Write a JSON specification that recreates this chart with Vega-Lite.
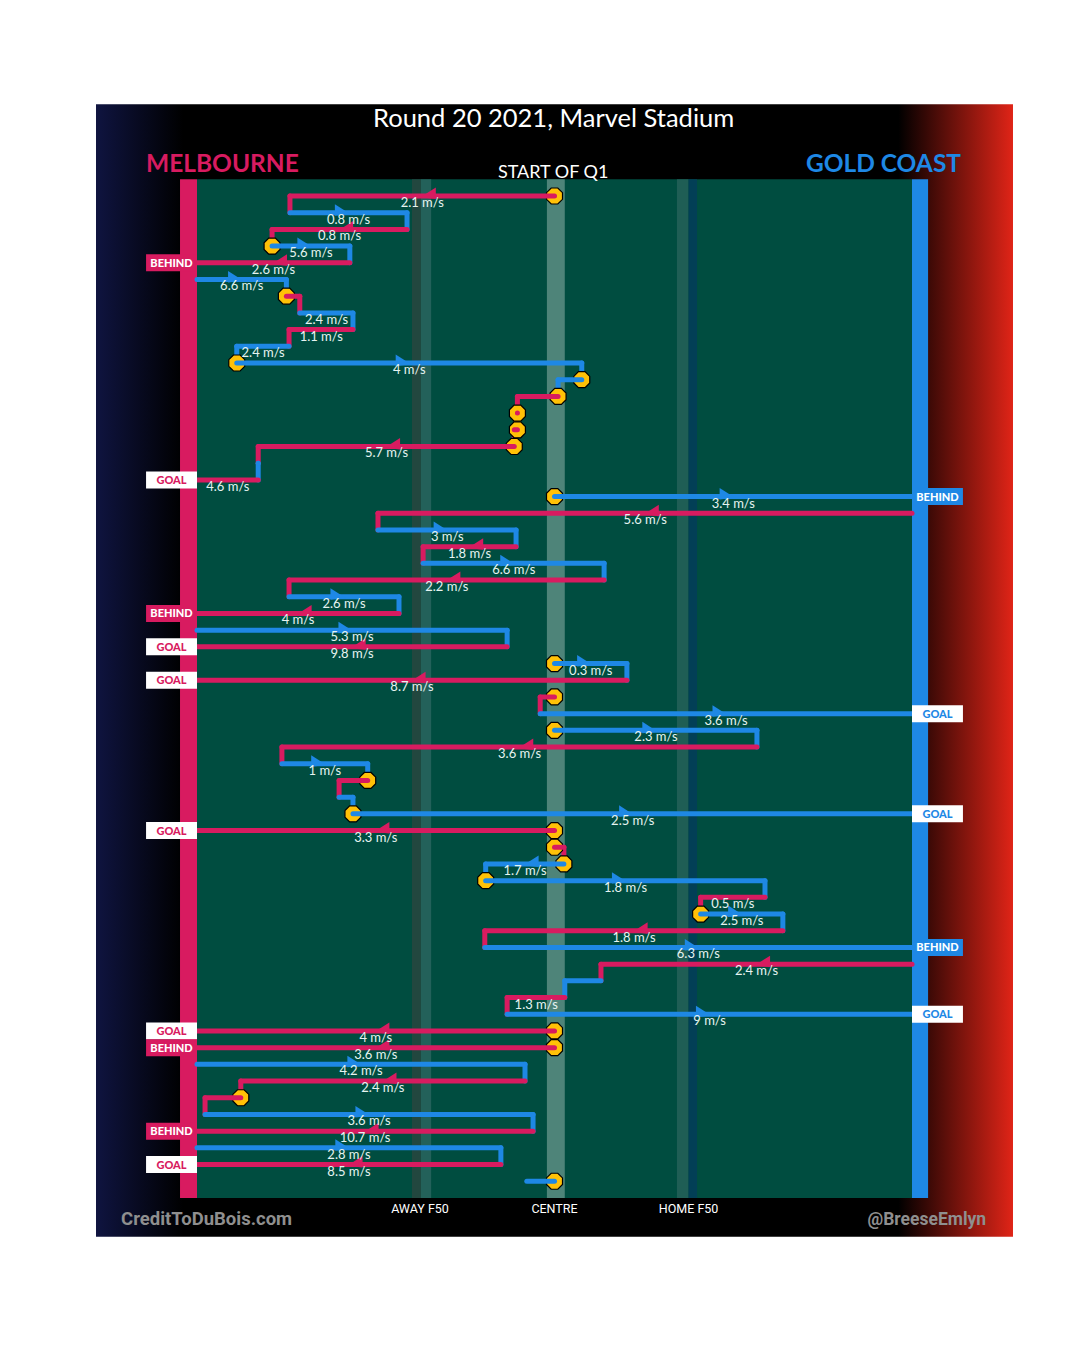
{
  "$schema": "https://vega.github.io/schema/vega-lite/v6.json",
  "width": 1080,
  "height": 1355,
  "autosize": {"type": "fit", "contains": "padding"},
  "padding": 0,
  "background": "#ffffff",
  "config": {"view": {"stroke": null}, "axis": {"disable": true}},
  "resolve": {"scale": {"color": "independent"}},
  "datasets": {
    "zones": [
      {"zone": "pitch", "x1": 0, "x2": 160, "y1": -1, "y2": 60},
      {"zone": "away_a", "x1": 48.1, "x2": 50.1, "y1": -1, "y2": 60},
      {"zone": "away_b", "x1": 50.1, "x2": 52.4, "y1": -1, "y2": 60},
      {"zone": "centre", "x1": 78.3, "x2": 82.3, "y1": -1, "y2": 60},
      {"zone": "home_a", "x1": 107.4, "x2": 110.0, "y1": -1, "y2": 60},
      {"zone": "home_b", "x1": 110.0, "x2": 111.9, "y1": -1, "y2": 60},
      {"zone": "melbar", "x1": -3.8, "x2": 0, "y1": -1, "y2": 60},
      {"zone": "gcbar", "x1": 160, "x2": 163.6, "y1": -1, "y2": 60}
    ],
    "moves": [
      {"row": 0, "team": "MEL", "from": 80, "to": 20.8, "mid": 50.4, "label": "2.1 m/s"},
      {"row": 1, "team": "GC", "from": 20.8, "to": 47, "mid": 33.9, "label": "0.8 m/s"},
      {"row": 2, "team": "MEL", "from": 47, "to": 16.8, "mid": 31.9, "label": "0.8 m/s"},
      {"row": 3, "team": "GC", "from": 16.8, "to": 34.2, "mid": 25.5, "label": "5.6 m/s"},
      {"row": 4, "team": "MEL", "from": 34.2, "to": 0, "mid": 17.1, "label": "2.6 m/s", "result": "BEHIND"},
      {"row": 5, "team": "GC", "from": 0, "to": 20, "mid": 10, "label": "6.6 m/s"},
      {"row": 6, "team": "MEL", "from": 20, "to": 23},
      {"row": 7, "team": "GC", "from": 23, "to": 34.9, "mid": 29, "label": "2.4 m/s"},
      {"row": 8, "team": "MEL", "from": 34.9, "to": 20.6, "mid": 27.8, "label": "1.1 m/s"},
      {"row": 9, "team": "GC", "from": 20.6, "to": 8.9, "mid": 14.8, "label": "2.4 m/s"},
      {"row": 10, "team": "GC", "from": 8.9, "to": 86.1, "mid": 47.5, "label": "4 m/s"},
      {"row": 11, "team": "GC", "from": 86.1, "to": 80.8},
      {"row": 12, "team": "MEL", "from": 80.8, "to": 71.7},
      {"row": 13, "team": "MEL", "from": 71.7, "to": 71.7},
      {"row": 14, "team": "MEL", "from": 71.7, "to": 71.0},
      {"row": 15, "team": "MEL", "from": 71.0, "to": 13.7, "mid": 42.4, "label": "5.7 m/s"},
      {"row": 16, "team": "GC", "from": 13.7, "to": 13.7},
      {"row": 17, "team": "MEL", "from": 13.7, "to": 0, "mid": 6.9, "label": "4.6 m/s", "result": "GOAL"},
      {"row": 18, "team": "GC", "from": 80, "to": 160, "mid": 120, "label": "3.4 m/s", "result": "BEHIND"},
      {"row": 19, "team": "MEL", "from": 160, "to": 40.5, "mid": 100.3, "label": "5.6 m/s"},
      {"row": 20, "team": "GC", "from": 40.5, "to": 71.4, "mid": 56, "label": "3 m/s"},
      {"row": 21, "team": "MEL", "from": 71.4, "to": 50.6, "mid": 61, "label": "1.8 m/s"},
      {"row": 22, "team": "GC", "from": 50.6, "to": 91.1, "mid": 70.9, "label": "6.6 m/s"},
      {"row": 23, "team": "MEL", "from": 91.1, "to": 20.6, "mid": 55.9, "label": "2.2 m/s"},
      {"row": 24, "team": "GC", "from": 20.6, "to": 45.2, "mid": 32.9, "label": "2.6 m/s"},
      {"row": 25, "team": "MEL", "from": 45.2, "to": 0, "mid": 22.6, "label": "4 m/s", "result": "BEHIND"},
      {"row": 26, "team": "GC", "from": 0, "to": 69.4, "mid": 34.7, "label": "5.3 m/s"},
      {"row": 27, "team": "MEL", "from": 69.4, "to": 0, "mid": 34.7, "label": "9.8 m/s", "result": "GOAL"},
      {"row": 28, "team": "GC", "from": 80, "to": 96.2, "mid": 88.1, "label": "0.3 m/s"},
      {"row": 29, "team": "MEL", "from": 96.2, "to": 0, "mid": 48.1, "label": "8.7 m/s", "result": "GOAL"},
      {"row": 30, "team": "MEL", "from": 80, "to": 76.8},
      {"row": 31, "team": "GC", "from": 76.8, "to": 160, "mid": 118.4, "label": "3.6 m/s", "result": "GOAL"},
      {"row": 32, "team": "GC", "from": 80, "to": 125.3, "mid": 102.7, "label": "2.3 m/s"},
      {"row": 33, "team": "MEL", "from": 125.3, "to": 19, "mid": 72.2, "label": "3.6 m/s"},
      {"row": 34, "team": "GC", "from": 19, "to": 38.2, "mid": 28.6, "label": "1 m/s"},
      {"row": 35, "team": "MEL", "from": 38.2, "to": 31.8},
      {"row": 36, "team": "GC", "from": 31.8, "to": 34.9},
      {"row": 37, "team": "GC", "from": 34.9, "to": 160, "mid": 97.5, "label": "2.5 m/s", "result": "GOAL"},
      {"row": 38, "team": "MEL", "from": 80, "to": 0, "mid": 40, "label": "3.3 m/s", "result": "GOAL"},
      {"row": 39, "team": "MEL", "from": 80, "to": 82.1},
      {"row": 40, "team": "GC", "from": 82.1, "to": 64.6, "mid": 73.4, "label": "1.7 m/s"},
      {"row": 41, "team": "GC", "from": 64.6, "to": 127.1, "mid": 95.9, "label": "1.8 m/s"},
      {"row": 42, "team": "MEL", "from": 127.1, "to": 112.7, "mid": 119.9, "label": "0.5 m/s"},
      {"row": 43, "team": "GC", "from": 112.7, "to": 131.1, "mid": 121.9, "label": "2.5 m/s"},
      {"row": 44, "team": "MEL", "from": 131.1, "to": 64.4, "mid": 97.8, "label": "1.8 m/s"},
      {"row": 45, "team": "GC", "from": 64.4, "to": 160, "mid": 112.2, "label": "6.3 m/s", "result": "BEHIND"},
      {"row": 46, "team": "MEL", "from": 160, "to": 90.4, "mid": 125.2, "label": "2.4 m/s"},
      {"row": 47, "team": "GC", "from": 90.4, "to": 82.3},
      {"row": 48, "team": "MEL", "from": 82.3, "to": 69.4, "mid": 75.9, "label": "1.3 m/s"},
      {"row": 49, "team": "GC", "from": 69.4, "to": 160, "mid": 114.7, "label": "9 m/s", "result": "GOAL"},
      {"row": 50, "team": "MEL", "from": 80, "to": 0, "mid": 40, "label": "4 m/s", "result": "GOAL"},
      {"row": 51, "team": "MEL", "from": 80, "to": 0, "mid": 40, "label": "3.6 m/s", "result": "BEHIND"},
      {"row": 52, "team": "GC", "from": 0, "to": 73.4, "mid": 36.7, "label": "4.2 m/s"},
      {"row": 53, "team": "MEL", "from": 73.4, "to": 9.8, "mid": 41.6, "label": "2.4 m/s"},
      {"row": 54, "team": "MEL", "from": 9.8, "to": 1.8},
      {"row": 55, "team": "GC", "from": 1.8, "to": 75.2, "mid": 38.5, "label": "3.6 m/s"},
      {"row": 56, "team": "MEL", "from": 75.2, "to": 0, "mid": 37.6, "label": "10.7 m/s", "result": "BEHIND"},
      {"row": 57, "team": "GC", "from": 0, "to": 68, "mid": 34, "label": "2.8 m/s"},
      {"row": 58, "team": "MEL", "from": 68, "to": 0, "mid": 34, "label": "8.5 m/s", "result": "GOAL"},
      {"row": 59, "team": "GC", "from": 80, "to": 73.8}
    ],
    "links": [
      {"team": "MEL", "x": 20.8, "r1": 0, "r2": 1},
      {"team": "GC", "x": 47, "r1": 1, "r2": 2},
      {"team": "MEL", "x": 16.8, "r1": 2, "r2": 3},
      {"team": "GC", "x": 34.2, "r1": 3, "r2": 4},
      {"team": "GC", "x": 20, "r1": 5, "r2": 6},
      {"team": "MEL", "x": 23, "r1": 6, "r2": 7},
      {"team": "GC", "x": 34.9, "r1": 7, "r2": 8},
      {"team": "MEL", "x": 20.6, "r1": 8, "r2": 9},
      {"team": "GC", "x": 8.9, "r1": 9, "r2": 10},
      {"team": "GC", "x": 86.1, "r1": 10, "r2": 11},
      {"team": "GC", "x": 80.8, "r1": 11, "r2": 12},
      {"team": "MEL", "x": 71.7, "r1": 12, "r2": 13},
      {"team": "MEL", "x": 71.7, "r1": 13, "r2": 14},
      {"team": "MEL", "x": 71.0, "r1": 14, "r2": 15},
      {"team": "MEL", "x": 13.7, "r1": 15, "r2": 16},
      {"team": "GC", "x": 13.7, "r1": 16, "r2": 17},
      {"team": "MEL", "x": 40.5, "r1": 19, "r2": 20},
      {"team": "GC", "x": 71.4, "r1": 20, "r2": 21},
      {"team": "MEL", "x": 50.6, "r1": 21, "r2": 22},
      {"team": "GC", "x": 91.1, "r1": 22, "r2": 23},
      {"team": "MEL", "x": 20.6, "r1": 23, "r2": 24},
      {"team": "GC", "x": 45.2, "r1": 24, "r2": 25},
      {"team": "GC", "x": 69.4, "r1": 26, "r2": 27},
      {"team": "GC", "x": 96.2, "r1": 28, "r2": 29},
      {"team": "MEL", "x": 76.8, "r1": 30, "r2": 31},
      {"team": "GC", "x": 125.3, "r1": 32, "r2": 33},
      {"team": "MEL", "x": 19, "r1": 33, "r2": 34},
      {"team": "GC", "x": 38.2, "r1": 34, "r2": 35},
      {"team": "MEL", "x": 31.8, "r1": 35, "r2": 36},
      {"team": "GC", "x": 34.9, "r1": 36, "r2": 37},
      {"team": "MEL", "x": 82.1, "r1": 39, "r2": 40},
      {"team": "GC", "x": 64.6, "r1": 40, "r2": 41},
      {"team": "GC", "x": 127.1, "r1": 41, "r2": 42},
      {"team": "MEL", "x": 112.7, "r1": 42, "r2": 43},
      {"team": "GC", "x": 131.1, "r1": 43, "r2": 44},
      {"team": "MEL", "x": 64.4, "r1": 44, "r2": 45},
      {"team": "MEL", "x": 90.4, "r1": 46, "r2": 47},
      {"team": "GC", "x": 82.3, "r1": 47, "r2": 48},
      {"team": "MEL", "x": 69.4, "r1": 48, "r2": 49},
      {"team": "GC", "x": 73.4, "r1": 52, "r2": 53},
      {"team": "MEL", "x": 9.8, "r1": 53, "r2": 54},
      {"team": "MEL", "x": 1.8, "r1": 54, "r2": 55},
      {"team": "GC", "x": 75.2, "r1": 55, "r2": 56},
      {"team": "GC", "x": 68, "r1": 57, "r2": 58}
    ],
    "stoppages": [
      {"row": 0, "x": 80}, {"row": 3, "x": 16.8}, {"row": 6, "x": 20}, {"row": 10, "x": 8.9},
      {"row": 11, "x": 86.1}, {"row": 12, "x": 80.8}, {"row": 13, "x": 71.7}, {"row": 14, "x": 71.7},
      {"row": 15, "x": 71.0}, {"row": 18, "x": 80}, {"row": 28, "x": 80}, {"row": 30, "x": 80},
      {"row": 32, "x": 80}, {"row": 35, "x": 38.2}, {"row": 37, "x": 34.9}, {"row": 38, "x": 80},
      {"row": 39, "x": 80}, {"row": 40, "x": 82.1}, {"row": 41, "x": 64.6}, {"row": 43, "x": 112.7},
      {"row": 50, "x": 80}, {"row": 51, "x": 80}, {"row": 54, "x": 9.8}, {"row": 59, "x": 80}
    ],
    "footer": [
      {"t": "AWAY F50", "x": 49.9},
      {"t": "CENTRE", "x": 80},
      {"t": "HOME F50", "x": 110}
    ]
  },
  "layer": [
    {
      "data": {"values": [{}]},
      "mark": {"type": "rect", "fill": {"gradient": "linear", "x1": 0, "y1": 0, "x2": 1, "y2": 0, "stops": [{"offset": 0, "color": "#0f1440"}, {"offset": 0.095, "color": "#000000"}, {"offset": 0.875, "color": "#000000"}, {"offset": 1, "color": "#e02417"}]}},
      "encoding": {
        "x": {"datum": -22.6, "type": "quantitative", "scale": {"domain": [-44.084, 197.594], "nice": false, "zero": false}, "axis": null},
        "x2": {"datum": 182.6},
        "y": {"datum": -5.494, "type": "quantitative", "scale": {"domain": [-11.438, 69.107], "nice": false, "zero": false, "reverse": true}, "axis": null},
        "y2": {"datum": 62.33}
      }
    },
    {
      "data": {"name": "zones"},
      "mark": {"type": "rect"},
      "encoding": {
        "x": {"field": "x1", "type": "quantitative", "scale": {"domain": [-44.084, 197.594], "nice": false, "zero": false}, "axis": null},
        "x2": {"field": "x2"},
        "y": {"field": "y1", "type": "quantitative", "scale": {"domain": [-11.438, 69.107], "nice": false, "zero": false, "reverse": true}, "axis": null},
        "y2": {"field": "y2"},
        "color": {"field": "zone", "type": "nominal", "legend": null, "scale": {"domain": ["pitch", "away_a", "away_b", "centre", "home_a", "home_b", "melbar", "gcbar"], "range": ["#004d40", "#22473f", "#23615a", "#4e8479", "#1f5e55", "#023f56", "#d81b60", "#1e88e5"]}}
      }
    },
    {
      "data": {"name": "links"},
      "mark": {"type": "rule", "strokeWidth": 5, "strokeCap": "round"},
      "encoding": {
        "x": {"field": "x", "type": "quantitative", "scale": {"domain": [-44.084, 197.594], "nice": false, "zero": false}, "axis": null},
        "y": {"field": "r1", "type": "quantitative", "scale": {"domain": [-11.438, 69.107], "nice": false, "zero": false, "reverse": true}, "axis": null},
        "y2": {"field": "r2"},
        "color": {"field": "team", "type": "nominal", "legend": null, "scale": {"domain": ["MEL", "GC"], "range": ["#d81b60", "#1e88e5"]}}
      }
    },
    {
      "data": {"name": "stoppages"},
      "mark": {"type": "point", "shape": "M -0.414 -1 L 0.414 -1 L 1 -0.414 L 1 0.414 L 0.414 1 L -0.414 1 L -1 0.414 L -1 -0.414 Z", "size": 256, "filled": true, "fill": "#ffc107", "stroke": "#000000", "strokeWidth": 1.2, "opacity": 1},
      "encoding": {
        "x": {"field": "x", "type": "quantitative", "scale": {"domain": [-44.084, 197.594], "nice": false, "zero": false}, "axis": null},
        "y": {"field": "row", "type": "quantitative", "scale": {"domain": [-11.438, 69.107], "nice": false, "zero": false, "reverse": true}, "axis": null}
      }
    },
    {
      "data": {"name": "moves"},
      "mark": {"type": "rule", "strokeWidth": 5, "strokeCap": "round"},
      "encoding": {
        "x": {"field": "from", "type": "quantitative", "scale": {"domain": [-44.084, 197.594], "nice": false, "zero": false}, "axis": null},
        "x2": {"field": "to"},
        "y": {"field": "row", "type": "quantitative", "scale": {"domain": [-11.438, 69.107], "nice": false, "zero": false, "reverse": true}, "axis": null},
        "color": {"field": "team", "type": "nominal", "legend": null, "scale": {"domain": ["MEL", "GC"], "range": ["#d81b60", "#1e88e5"]}}
      }
    },
    {
      "data": {"name": "moves"},
      "transform": [{"filter": "datum.to - datum.from > 15"}],
      "mark": {"type": "point", "shape": "M -1.6 -1 L 0.2 0.15 L -1.6 0.35 Z", "size": 289, "filled": true, "opacity": 1, "strokeWidth": 0},
      "encoding": {
        "x": {"field": "mid", "type": "quantitative", "scale": {"domain": [-44.084, 197.594], "nice": false, "zero": false}, "axis": null},
        "y": {"field": "row", "type": "quantitative", "scale": {"domain": [-11.438, 69.107], "nice": false, "zero": false, "reverse": true}, "axis": null},
        "color": {"field": "team", "type": "nominal", "legend": null, "scale": {"domain": ["MEL", "GC"], "range": ["#d81b60", "#1e88e5"]}}
      }
    },
    {
      "data": {"name": "moves"},
      "transform": [{"filter": "datum.from - datum.to > 15"}],
      "mark": {"type": "point", "shape": "M 1.6 -1 L -0.2 0.15 L 1.6 0.35 Z", "size": 289, "filled": true, "opacity": 1, "strokeWidth": 0},
      "encoding": {
        "x": {"field": "mid", "type": "quantitative", "scale": {"domain": [-44.084, 197.594], "nice": false, "zero": false}, "axis": null},
        "y": {"field": "row", "type": "quantitative", "scale": {"domain": [-11.438, 69.107], "nice": false, "zero": false, "reverse": true}, "axis": null},
        "color": {"field": "team", "type": "nominal", "legend": null, "scale": {"domain": ["MEL", "GC"], "range": ["#d81b60", "#1e88e5"]}}
      }
    },
    {
      "data": {"name": "moves"},
      "transform": [{"filter": "isValid(datum.label)"}],
      "mark": {"type": "text", "font": "Lato", "fontSize": 13, "color": "#e6f4f1", "align": "center", "baseline": "alphabetic", "dy": 11},
      "encoding": {
        "x": {"field": "mid", "type": "quantitative", "scale": {"domain": [-44.084, 197.594], "nice": false, "zero": false}, "axis": null},
        "y": {"field": "row", "type": "quantitative", "scale": {"domain": [-11.438, 69.107], "nice": false, "zero": false, "reverse": true}, "axis": null},
        "text": {"field": "label"}
      }
    },
    {
      "data": {"name": "moves"},
      "transform": [{"filter": "datum.team == 'MEL' && isValid(datum.result)"}],
      "mark": {"type": "bar", "orient": "horizontal", "size": 17},
      "encoding": {
        "x": {"datum": -11.4, "type": "quantitative", "scale": {"domain": [-44.084, 197.594], "nice": false, "zero": false}, "axis": null},
        "x2": {"datum": 0},
        "y": {"field": "row", "type": "quantitative", "scale": {"domain": [-11.438, 69.107], "nice": false, "zero": false, "reverse": true}, "axis": null},
        "color": {"condition": {"test": "datum.result == 'GOAL'", "value": "#ffffff"}, "value": "#d81b60"}
      }
    },
    {
      "data": {"name": "moves"},
      "transform": [{"filter": "datum.team == 'GC' && isValid(datum.result)"}],
      "mark": {"type": "bar", "orient": "horizontal", "size": 17},
      "encoding": {
        "x": {"datum": 160, "type": "quantitative", "scale": {"domain": [-44.084, 197.594], "nice": false, "zero": false}, "axis": null},
        "x2": {"datum": 171.4},
        "y": {"field": "row", "type": "quantitative", "scale": {"domain": [-11.438, 69.107], "nice": false, "zero": false, "reverse": true}, "axis": null},
        "color": {"condition": {"test": "datum.result == 'GOAL'", "value": "#ffffff"}, "value": "#1e88e5"}
      }
    },
    {
      "data": {"name": "moves"},
      "transform": [{"filter": "datum.team == 'MEL' && isValid(datum.result)"}],
      "mark": {"type": "text", "font": "Lato", "fontWeight": 900, "fontSize": 11, "align": "center", "baseline": "middle", "dy": 1},
      "encoding": {
        "x": {"datum": -5.7, "type": "quantitative", "scale": {"domain": [-44.084, 197.594], "nice": false, "zero": false}, "axis": null},
        "y": {"field": "row", "type": "quantitative", "scale": {"domain": [-11.438, 69.107], "nice": false, "zero": false, "reverse": true}, "axis": null},
        "text": {"field": "result"},
        "color": {"condition": {"test": "datum.result == 'GOAL'", "value": "#d81b60"}, "value": "#ffffff"}
      }
    },
    {
      "data": {"name": "moves"},
      "transform": [{"filter": "datum.team == 'GC' && isValid(datum.result)"}],
      "mark": {"type": "text", "font": "Lato", "fontWeight": 900, "fontSize": 11, "align": "center", "baseline": "middle", "dy": 1},
      "encoding": {
        "x": {"datum": 165.7, "type": "quantitative", "scale": {"domain": [-44.084, 197.594], "nice": false, "zero": false}, "axis": null},
        "y": {"field": "row", "type": "quantitative", "scale": {"domain": [-11.438, 69.107], "nice": false, "zero": false, "reverse": true}, "axis": null},
        "text": {"field": "result"},
        "color": {"condition": {"test": "datum.result == 'GOAL'", "value": "#1e88e5"}, "value": "#ffffff"}
      }
    },
    {
      "data": {"values": [{}]},
      "mark": {"type": "text", "font": "Lato", "fontSize": 25.5, "color": "#ffffff", "align": "center", "baseline": "alphabetic"},
      "encoding": {
        "x": {"datum": 79.8, "type": "quantitative", "scale": {"domain": [-44.084, 197.594], "nice": false, "zero": false}, "axis": null},
        "y": {"datum": -4.13, "type": "quantitative", "scale": {"domain": [-11.438, 69.107], "nice": false, "zero": false, "reverse": true}, "axis": null},
        "text": {"value": "Round 20 2021, Marvel Stadium"}
      }
    },
    {
      "data": {"values": [{}]},
      "mark": {"type": "text", "font": "Lato", "fontWeight": "bold", "fontSize": 24.5, "color": "#d81b60", "align": "left", "baseline": "alphabetic"},
      "encoding": {
        "x": {"datum": -11.41, "type": "quantitative", "scale": {"domain": [-44.084, 197.594], "nice": false, "zero": false}, "axis": null},
        "y": {"datum": -1.42, "type": "quantitative", "scale": {"domain": [-11.438, 69.107], "nice": false, "zero": false, "reverse": true}, "axis": null},
        "text": {"value": "MELBOURNE"}
      }
    },
    {
      "data": {"values": [{}]},
      "mark": {"type": "text", "font": "Lato", "fontWeight": "bold", "fontSize": 24.5, "color": "#1e88e5", "align": "right", "baseline": "alphabetic"},
      "encoding": {
        "x": {"datum": 170.97, "type": "quantitative", "scale": {"domain": [-44.084, 197.594], "nice": false, "zero": false}, "axis": null},
        "y": {"datum": -1.42, "type": "quantitative", "scale": {"domain": [-11.438, 69.107], "nice": false, "zero": false, "reverse": true}, "axis": null},
        "text": {"value": "GOLD COAST"}
      }
    },
    {
      "data": {"values": [{}]},
      "mark": {"type": "text", "font": "Lato", "fontSize": 18, "color": "#ffffff", "align": "center", "baseline": "alphabetic"},
      "encoding": {
        "x": {"datum": 79.7, "type": "quantitative", "scale": {"domain": [-44.084, 197.594], "nice": false, "zero": false}, "axis": null},
        "y": {"datum": -1.08, "type": "quantitative", "scale": {"domain": [-11.438, 69.107], "nice": false, "zero": false, "reverse": true}, "axis": null},
        "text": {"value": "START OF Q1"}
      }
    },
    {
      "data": {"name": "footer"},
      "mark": {"type": "text", "font": "Roboto", "fontSize": 12.5, "color": "#ffffff", "align": "center", "baseline": "alphabetic"},
      "encoding": {
        "x": {"field": "x", "type": "quantitative", "scale": {"domain": [-44.084, 197.594], "nice": false, "zero": false}, "axis": null},
        "y": {"datum": 60.93, "type": "quantitative", "scale": {"domain": [-11.438, 69.107], "nice": false, "zero": false, "reverse": true}, "axis": null},
        "text": {"field": "t"}
      }
    },
    {
      "data": {"values": [{}]},
      "mark": {"type": "text", "font": "Roboto", "fontWeight": "bold", "fontSize": 18.5, "color": "#8f8f8f", "align": "left", "baseline": "alphabetic"},
      "encoding": {
        "x": {"datum": -17.0, "type": "quantitative", "scale": {"domain": [-44.084, 197.594], "nice": false, "zero": false}, "axis": null},
        "y": {"datum": 61.62, "type": "quantitative", "scale": {"domain": [-11.438, 69.107], "nice": false, "zero": false, "reverse": true}, "axis": null},
        "text": {"value": "CreditToDuBois.com"}
      }
    },
    {
      "data": {"values": [{}]},
      "mark": {"type": "text", "font": "Roboto", "fontWeight": "bold", "fontSize": 17.5, "color": "#8f8f8f", "align": "right", "baseline": "alphabetic"},
      "encoding": {
        "x": {"datum": 176.6, "type": "quantitative", "scale": {"domain": [-44.084, 197.594], "nice": false, "zero": false}, "axis": null},
        "y": {"datum": 61.62, "type": "quantitative", "scale": {"domain": [-11.438, 69.107], "nice": false, "zero": false, "reverse": true}, "axis": null},
        "text": {"value": "@BreeseEmlyn"}
      }
    }
  ]
}
